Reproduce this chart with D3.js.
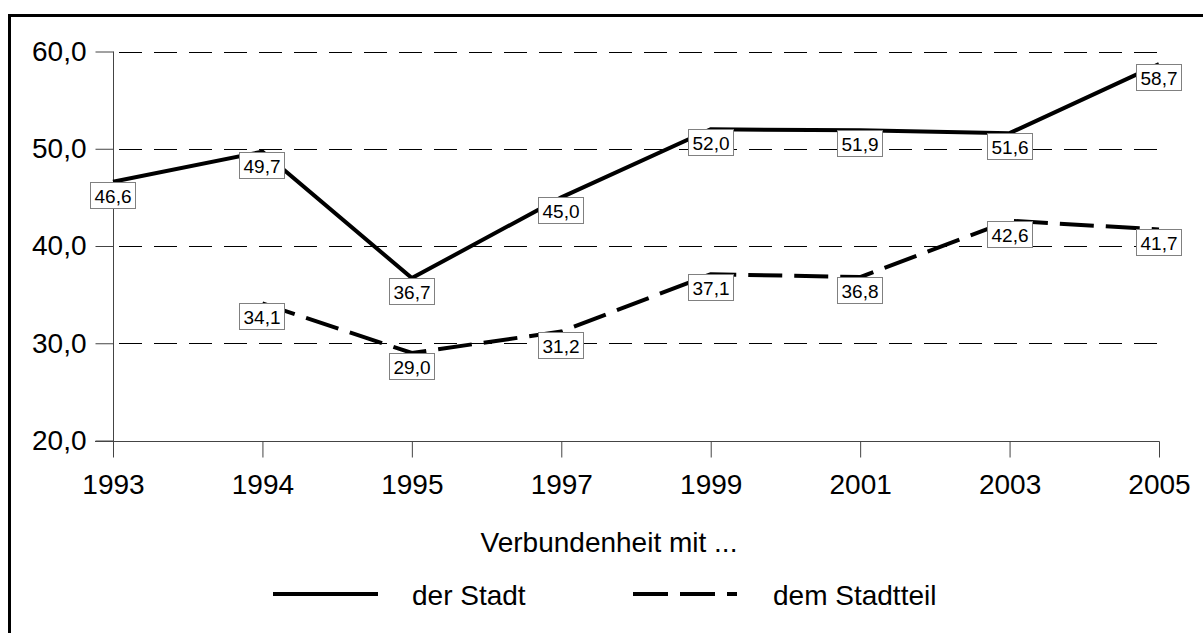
<!DOCTYPE html>
<meta charset="utf-8">
<style>
  body { margin: 0; background: #fff; }
  text { font-family: Arial, "Liberation Sans", sans-serif; }
</style>
<script src="https://d3js.org/d3.v7.min.js"></script>
<div id="chart"></div>
<script>
// data
var years = ["1993", "1994", "1995", "1997", "1999", "2001", "2003", "2005"];
var stadt = [46.6, 49.7, 36.7, 45.0, 52.0, 51.9, 51.6, 58.7];
var stadtteil = [null, 34.1, 29.0, 31.2, 37.1, 36.8, 42.6, 41.7];
var yTicks = [20, 30, 40, 50, 60];
var seriesNames = ["der Stadt", "dem Stadtteil"];
var axisTitle = "Verbundenheit mit ...";

var width = 1203, height = 633;
var fmt = function(v) { return d3.format(".1f")(v).replace(".", ","); };

var svg = d3.select("#chart").append("svg")
  .attr("width", width)
  .attr("height", height);

// outer frame (only top and left edges visible)
svg.append("rect")
  .attr("x", 9.5).attr("y", 15.5)
  .attr("width", 1210).attr("height", 640)
  .attr("fill", "none")
  .attr("stroke", "#000")
  .attr("stroke-width", 3);

var x = d3.scalePoint().domain(years).range([113, 1159]);
var y = d3.scaleLinear().domain([20, 60]).range([440.5, 51.5]);

// dashed grid lines
svg.append("g")
  .selectAll("line")
  .data(yTicks.filter(function(d) { return d > 20; }))
  .enter().append("line")
    .attr("x1", 113).attr("x2", 1160)
    .attr("y1", function(d) { return Math.round(y(d)) + 0.5; })
    .attr("y2", function(d) { return Math.round(y(d)) + 0.5; })
    .attr("stroke", "#000")
    .attr("stroke-width", 1)
    .attr("stroke-dasharray", "23,12")
    .attr("stroke-dashoffset", -6);

// Y axis
var yAxis = svg.append("g")
  .attr("transform", "translate(113.5,0)")
  .call(d3.axisLeft(y).tickValues(yTicks).tickSize(18).tickPadding(9).tickFormat(fmt));
yAxis.select(".domain").attr("stroke", "#444").attr("d", "M0,51.5V457");
yAxis.selectAll(".tick line").attr("stroke", "#444");
yAxis.selectAll(".tick text")
  .style("font-size", "28px")
  .attr("fill", "#000");

// X axis
var xAxis = svg.append("g")
  .attr("transform", "translate(0," + (Math.round(y(20)) + 0.5) + ")")
  .call(d3.axisBottom(x).tickSize(16).tickPadding(17));
xAxis.select(".domain").attr("stroke", "#444").attr("d", "M95,0H1159.5");
xAxis.selectAll(".tick line").attr("stroke", "#444");
xAxis.selectAll(".tick text")
  .style("font-size", "28px")
  .attr("fill", "#000");

// lines
var line = d3.line()
  .defined(function(d) { return d.v != null; })
  .x(function(d) { return x(d.year); })
  .y(function(d) { return y(d.v); });

var stadtData = years.map(function(yr, i) { return { year: yr, v: stadt[i] }; });
var teilData = years.map(function(yr, i) { return { year: yr, v: stadtteil[i] }; });

svg.append("path")
  .datum(stadtData)
  .attr("fill", "none")
  .attr("stroke", "#000")
  .attr("stroke-width", 4)
  .attr("d", line);

svg.append("path")
  .datum(teilData)
  .attr("fill", "none")
  .attr("stroke", "#000")
  .attr("stroke-width", 4)
  .attr("stroke-dasharray", "34,12")
  .attr("d", line);

// value labels in boxes
function addLabels(data) {
  var g = svg.append("g")
    .selectAll("g")
    .data(data.filter(function(d) { return d.v != null; }))
    .enter().append("g")
      .attr("transform", function(d) {
        return "translate(" + Math.round(x(d.year)) + "," + Math.round(y(d.v)) + ")";
      });
  g.append("rect")
    .attr("x", -22.5).attr("y", 0.5)
    .attr("width", 45).attr("height", 26)
    .attr("fill", "#fff")
    .attr("stroke", "#808080")
    .attr("stroke-width", 1);
  g.append("text")
    .attr("x", 0).attr("y", 21)
    .attr("text-anchor", "middle")
    .style("font-size", "19px")
    .text(function(d) { return fmt(d.v); });
}
addLabels(stadtData);
addLabels(teilData);

// axis title
svg.append("text")
  .attr("x", 609).attr("y", 552)
  .attr("text-anchor", "middle")
  .style("font-size", "28px")
  .text(axisTitle);

// legend
var legend = svg.append("g");
legend.append("line")
  .attr("x1", 273).attr("x2", 378)
  .attr("y1", 594).attr("y2", 594)
  .attr("stroke", "#000").attr("stroke-width", 4);
legend.append("text")
  .attr("x", 412).attr("y", 605)
  .style("font-size", "28px")
  .text(seriesNames[0]);
legend.append("line")
  .attr("x1", 633).attr("x2", 737)
  .attr("y1", 594).attr("y2", 594)
  .attr("stroke", "#000").attr("stroke-width", 4)
  .attr("stroke-dasharray", "35,12");
legend.append("text")
  .attr("x", 773).attr("y", 605)
  .style("font-size", "28px")
  .text(seriesNames[1]);
</script>
